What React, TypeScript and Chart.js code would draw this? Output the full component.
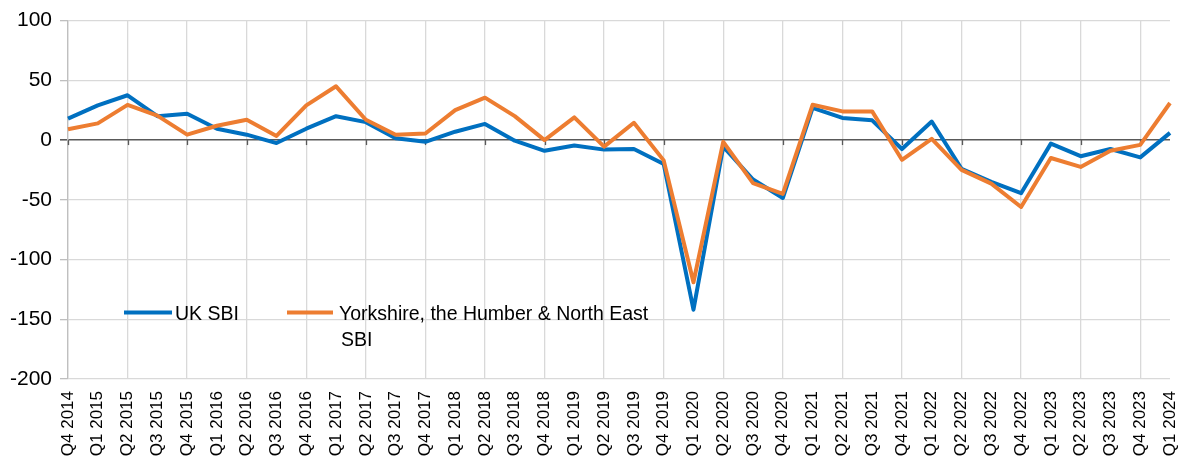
import React, { useEffect, useRef } from "react";
import { Chart, registerables } from "chart.js";

Chart.register(...registerables);

const quarters = [
  "Q4 2014", "Q1 2015", "Q2 2015", "Q3 2015", "Q4 2015", "Q1 2016", "Q2 2016", "Q3 2016",
  "Q4 2016", "Q1 2017", "Q2 2017", "Q3 2017", "Q4 2017", "Q1 2018", "Q2 2018", "Q3 2018",
  "Q4 2018", "Q1 2019", "Q2 2019", "Q3 2019", "Q4 2019", "Q1 2020", "Q2 2020", "Q3 2020",
  "Q4 2020", "Q1 2021", "Q2 2021", "Q3 2021", "Q4 2021", "Q1 2022", "Q2 2022", "Q3 2022",
  "Q4 2022", "Q1 2023", "Q2 2023", "Q3 2023", "Q4 2023", "Q1 2024",
];

const ukSbi = [
  18, 29, 37.5, 20, 22, 9.5, 4.5, -2.5,
  9.5, 20, 15, 1.5, -1.5, 7, 13.5, -0.5,
  -9, -4.5, -8, -7.5, -20, -142, -5.5, -33,
  -48.5, 27, 18.5, 16.5, -7.5, 15.5, -24, -35,
  -44.5, -3, -13.5, -7.5, -14.5, 6,
];

const yhneSbi = [
  9, 14, 29.5, 20.5, 4.5, 12, 17, 3.5,
  29, 45, 17, 4.5, 5.5, 25, 35.5, 20,
  0, 19, -5.5, 14.5, -17, -119, -1.5, -36,
  -45, 29.5, 24, 24, -16.5, 1, -25, -36.5,
  -56, -15, -22.5, -9, -4, 31,
];

const seriesNames = ["UK SBI", "Yorkshire, the Humber & North East", "SBI"];
const yMin = -200;
const yMax = 100;
const yStep = 50;

const BLUE = "#0070C0";
const ORANGE = "#ED7D31";
const GRID = "#d9d9d9";
const ZERO = "#595959";
const FONT = '"Liberation Sans", Arial, sans-serif';

const overlayPlugin = {
  id: "overlay",
  beforeDatasetsDraw(chart: any) {
    const { ctx, scales } = chart;
    const xs = scales.x;
    const ys = scales.y;
    const y0 = ys.getPixelForValue(0);
    ctx.save();
    ctx.strokeStyle = ZERO;
    ctx.lineWidth = 1.3;
    for (let i = 0; i < quarters.length; i += 2) {
      const x = Math.round(xs.getPixelForValue(i)) + 0.5;
      ctx.beginPath();
      ctx.moveTo(x, y0);
      ctx.lineTo(x, y0 + 5);
      ctx.stroke();
    }
    ctx.restore();
  },
  afterDraw(chart: any) {
    const { ctx, chartArea } = chart;
    const l = chartArea.left;
    const t = chartArea.top;
    const ly = t + 292;
    ctx.save();
    ctx.lineWidth = 4;
    ctx.lineCap = "butt";
    ctx.strokeStyle = BLUE;
    ctx.beginPath();
    ctx.moveTo(l + 56, ly);
    ctx.lineTo(l + 104, ly);
    ctx.stroke();
    ctx.strokeStyle = ORANGE;
    ctx.beginPath();
    ctx.moveTo(l + 219, ly);
    ctx.lineTo(l + 265, ly);
    ctx.stroke();
    ctx.fillStyle = "#000";
    ctx.font = "19.5px " + FONT;
    ctx.textBaseline = "alphabetic";
    ctx.textAlign = "left";
    ctx.fillText(seriesNames[0], l + 107, ly + 7);
    ctx.fillText(seriesNames[1], l + 271, ly + 7);
    ctx.fillText(seriesNames[2], l + 273, ly + 33);
    ctx.restore();
  },
};

export default function App() {
  const canvasRef = useRef<HTMLCanvasElement | null>(null);

  useEffect(() => {
    document.body.style.margin = "0";
    const canvas = canvasRef.current;
    if (!canvas) return;
    const chart = new Chart(canvas, {
      type: "line",
      data: {
        labels: quarters,
        datasets: [
          {
            label: seriesNames[0],
            data: ukSbi,
            borderColor: BLUE,
            backgroundColor: BLUE,
            borderWidth: 4,
            pointRadius: 0,
            tension: 0,
            borderJoinStyle: "round",
            order: 1,
          },
          {
            label: seriesNames[1],
            data: yhneSbi,
            borderColor: ORANGE,
            backgroundColor: ORANGE,
            borderWidth: 4,
            pointRadius: 0,
            tension: 0,
            borderJoinStyle: "round",
            order: 0,
          },
        ],
      },
      options: {
        responsive: false,
        animation: false,
        events: [],
        layout: { padding: { top: 19, right: 11, left: 0, bottom: 0 } },
        plugins: {
          legend: { display: false },
          tooltip: { enabled: false },
          title: { display: false },
        },
        scales: {
          x: {
            type: "category",
            offset: false,
            border: { display: false },
            grid: {
              drawTicks: false,
              lineWidth: 1.3,
              color: (c: any) => (c.index % 2 === 0 ? GRID : "rgba(0,0,0,0)"),
            },
            ticks: {
              autoSkip: false,
              maxRotation: 90,
              minRotation: 90,
              padding: 12,
              color: "#000",
              font: { family: FONT, size: 17 },
            },
            afterFit: (s: any) => {
              s.height = 82;
              s.paddingLeft = 0;
              s.paddingRight = 0;
            },
          },
          y: {
            min: yMin,
            max: yMax,
            border: { display: true, color: "#bfbfbf", width: 1.3 },
            grid: {
              lineWidth: (c: any) => (c.tick && c.tick.value === 0 ? 1.6 : 1.3),
              color: (c: any) => (c.tick && c.tick.value === 0 ? ZERO : GRID),
              tickColor: (c: any) => (c.tick && c.tick.value === 0 ? ZERO : "#bfbfbf"),
              tickLength: 8,
            },
            ticks: {
              stepSize: yStep,
              padding: 8,
              color: "#000",
              font: { family: FONT, size: 21 },
            },
            afterFit: (s: any) => {
              s.width = 68;
            },
          },
        },
      },
      plugins: [overlayPlugin],
    });
    return () => chart.destroy();
  }, []);

  return (
    <div style={{ position: "relative", width: 1181, height: 461, background: "#fff" }}>
      <canvas ref={canvasRef} width={1181} height={461} style={{ display: "block" }} />
    </div>
  );
}
